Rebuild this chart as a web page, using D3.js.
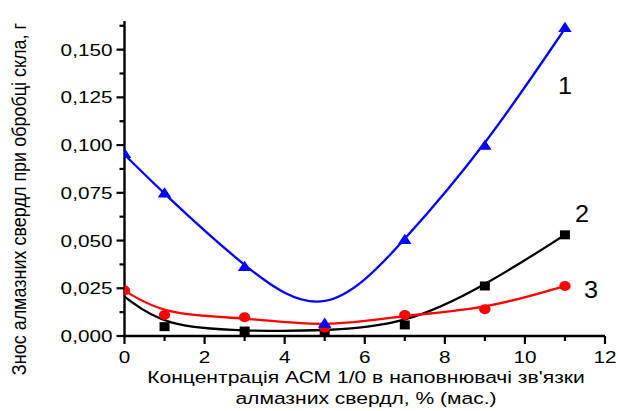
<!DOCTYPE html>
<html><head><meta charset="utf-8">
<script src="https://cdn.jsdelivr.net/npm/d3@7"></script>
<style>body{margin:0;background:#fff}svg{display:block}text{font-family:"Liberation Sans",Arial,sans-serif;fill:#000}</style>
</head><body><svg id="c" width="618" height="411"></svg>
<script>
const xs = [0, 1, 3, 5, 7, 9, 11];
const series1 = [0.095, 0.0743, 0.0358, 0.0061, 0.0500, 0.0993, 0.161];   // blue triangles
const series2 = [0.0206, 0.0049, 0.0026, 0.0026, 0.0058, 0.0262, 0.0530]; // black squares
const series3 = [0.0238, 0.0110, 0.0098, 0.0044, 0.0110, 0.0140, 0.0262]; // red circles
const series2MarkerFrom = 1;
const xTicks = [0, 2, 4, 6, 8, 10, 12];
const yTicks = [0, 0.025, 0.05, 0.075, 0.1, 0.125, 0.15];
const yTickLabels = ["0,000", "0,025", "0,050", "0,075", "0,100", "0,125", "0,150"];
const curveLabels = ["1", "2", "3"];
const xTitle1 = "Концентрація АСМ 1/0 в наповнювачі зв'язки";
const xTitle2 = "алмазних свердл, % (мас.)";
const yTitle = "Знос алмазних свердл при обробці скла, г";

const svg = d3.select("#c");
const L = 124.5, R = 605, T = 21, B = 336;
const x = d3.scaleLinear().domain([0, 12]).range([L, R]);
const y = d3.scaleLinear().domain([0, 0.165]).range([B, T]);
const SX = 1.22;
const FS = 17;

svg.append("defs").append("clipPath").attr("id","clip").append("rect")
  .attr("x", L).attr("y", 0).attr("width", R - L + 20).attr("height", B);

// axes
const yAxis = svg.append("g");
yAxis.append("line").attr("x1", L).attr("x2", L).attr("y1", T).attr("y2", B + 1).attr("stroke","#000").attr("stroke-width",2.4);
const yMinor = d3.range(0, 0.1626, 0.0125);
yAxis.selectAll(".ym").data(yMinor).join("line")
  .attr("x1", L).attr("x2", (d,i) => i % 2 === 0 ? L - 8 : L - 5)
  .attr("y1", d => y(d)).attr("y2", d => y(d)).attr("stroke","#000").attr("stroke-width",2.2);
yAxis.selectAll(".yl").data(yTicks).join("text")
  .attr("transform", d => `translate(${L - 12},${y(d) + 6}) scale(${SX},1)`)
  .attr("text-anchor","end").attr("font-size",FS).text((d,i) => yTickLabels[i]);

const xAxis = svg.append("g");
xAxis.append("line").attr("x1", L - 1).attr("x2", R).attr("y1", B).attr("y2", B).attr("stroke","#000").attr("stroke-width",2.4);
xAxis.selectAll(".xm").data(d3.range(0, 13, 1)).join("line")
  .attr("x1", d => x(d)).attr("x2", d => x(d))
  .attr("y1", B).attr("y2", d => d % 2 === 0 ? B + 8 : B + 5).attr("stroke","#000").attr("stroke-width",2.2);
xAxis.selectAll(".xl").data(xTicks).join("text")
  .attr("transform", d => `translate(${x(d)},${B + 26.5}) scale(${SX},1)`)
  .attr("text-anchor","middle").attr("font-size",FS).text(d => d);

svg.append("text").attr("transform", `translate(366,382.5) scale(1.24,1)`).attr("text-anchor","middle").attr("font-size",FS).text(xTitle1);
svg.append("text").attr("transform", `translate(366,404) scale(1.24,1)`).attr("text-anchor","middle").attr("font-size",FS).text(xTitle2);
svg.append("text").attr("transform", `translate(26,199) scale(1.15,1) rotate(-90)`).attr("text-anchor","middle").attr("font-size",18).text(yTitle);

const line = d3.line().x(d => x(d[0])).y(d => y(d[1])).curve(d3.curveBasis);
const plot = svg.append("g");
function pts(vals){ return xs.map((v,i) => [v, vals[i]]); }

// black
plot.append("path").datum(pts(series2)).attr("d", line).attr("fill","none").attr("stroke","#000").attr("stroke-width",2.3);
plot.append("g").attr("clip-path","url(#clip)").selectAll("rect").data(pts(series2).slice(series2MarkerFrom)).join("rect")
  .attr("x", d => x(d[0]) - 5).attr("y", d => y(d[1]) - 4.5).attr("width", 10).attr("height", 9).attr("fill","#000");
// red
plot.append("path").datum(pts(series3)).attr("d", line).attr("fill","none").attr("stroke","#f00").attr("stroke-width",2.3);
plot.append("g").attr("clip-path","url(#clip)").selectAll("ellipse").data(pts(series3)).join("ellipse")
  .attr("cx", d => x(d[0])).attr("cy", d => y(d[1])).attr("rx", 5.7).attr("ry", 5).attr("fill","#f00");
// blue
plot.append("path").datum(pts(series1)).attr("d", line).attr("fill","none").attr("stroke","#00f").attr("stroke-width",2.3);
const tri = d3.symbol().type(d3.symbolTriangle).size(60);
plot.append("g").attr("clip-path","url(#clip)").selectAll("path").data(pts(series1)).join("path")
  .attr("transform", d => `translate(${x(d[0])},${y(d[1])}) scale(1.15,1)`).attr("d", tri).attr("fill","#00f");

// curve labels
const lab = [[565, 93.5], [582, 222], [591, 298]];
svg.selectAll(".cl").data(curveLabels).join("text")
  .attr("transform", (d,i) => `translate(${lab[i][0]},${lab[i][1]}) scale(1.1,1)`)
  .attr("text-anchor","middle").attr("font-size",23).text(d => d);
</script></body></html>
